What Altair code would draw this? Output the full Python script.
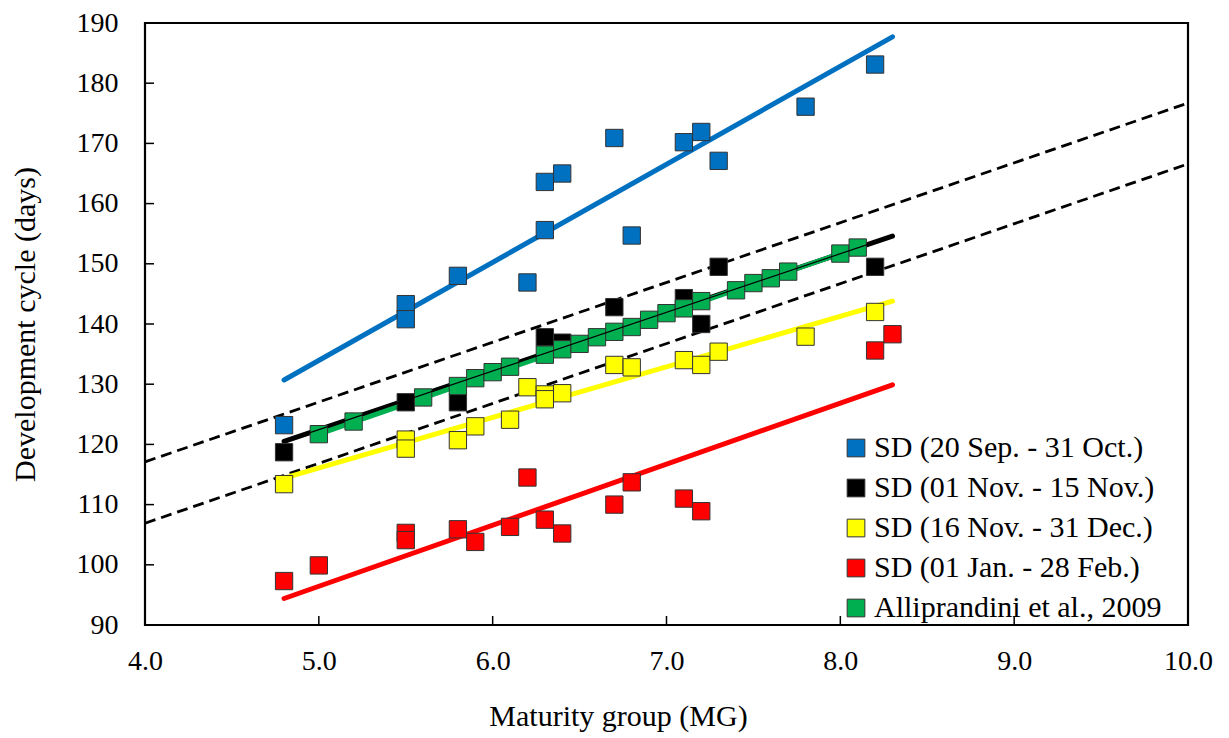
import altair as alt
import pandas as pd

# ---------------- data ----------------
series_names = ["SD (20 Sep. - 31 Oct.)", "SD (01 Nov. - 15 Nov.)",
                "SD (16 Nov. - 31 Dec.)", "SD (01 Jan. - 28 Feb.)",
                "Alliprandini et al., 2009"]
series_colors = ["#0070C0", "#000000", "#FFFF00", "#FF0000", "#00B050"]

blue_x = [4.8, 5.5, 5.5, 5.8, 6.2, 6.3, 6.3, 6.4, 6.7, 6.8, 7.1, 7.2, 7.3, 7.8, 8.2]
blue_y = [123.2, 143.3, 140.8, 148.0, 146.9, 163.6, 155.6, 165.0, 170.9, 154.7,
          170.2, 171.9, 167.1, 176.1, 183.1]

black_x = [4.8, 5.5, 5.8, 6.3, 6.4, 6.7, 7.1, 7.2, 7.3, 8.2]
black_y = [118.7, 127.0, 127.0, 137.8, 136.9, 142.8, 144.3, 140.0, 149.5, 149.5]

yellow_x = [4.8, 5.5, 5.5, 5.8, 5.9, 6.1, 6.2, 6.3, 6.3, 6.4, 6.7, 6.8, 7.1, 7.2, 7.3, 7.8, 8.2]
yellow_y = [113.4, 120.8, 119.3, 120.7, 123.0, 124.1, 129.5, 128.3, 127.5, 128.5,
            133.2, 132.8, 134.0, 133.2, 135.4, 137.9, 142.0]

red_x = [4.8, 5.0, 5.5, 5.5, 5.8, 5.9, 6.1, 6.2, 6.3, 6.4, 6.7, 6.8, 7.1, 7.2, 8.2, 8.3]
red_y = [97.3, 99.9, 105.3, 104.1, 105.9, 103.8, 106.3, 114.5, 107.5, 105.2,
         110.0, 113.7, 111.0, 108.9, 135.6, 138.3]

green_x = [5.0, 5.2, 5.6, 5.8, 5.9, 6.0, 6.1, 6.3, 6.4, 6.5, 6.6, 6.7, 6.8, 6.9,
           7.0, 7.1, 7.2, 7.4, 7.5, 7.6, 7.7, 8.0, 8.1]
green_y = [121.7, 123.8, 127.8, 129.7, 131.0, 132.0, 132.9, 134.9, 135.8, 136.7,
           137.8, 138.7, 139.5, 140.7, 141.8, 142.6, 143.8, 145.6, 146.8, 147.6,
           148.7, 151.7, 152.7]

# fitted trend lines (end points)
trend_x = [[4.8, 8.3], [4.8, 8.3], [4.8, 8.3], [4.8, 8.3], [5.0, 8.1]]
trend_y = [[130.7, 187.7], [120.5, 154.6], [114.4, 143.8], [94.4, 129.9], [121.7, 152.7]]

# dashed envelope lines
dash_x = [4.0, 10.0]
dash_upper = [117.1, 176.7]
dash_lower = [106.9, 166.6]

x_ticks = [4, 5, 6, 7, 8, 9, 10]
y_ticks = [90, 100, 110, 120, 130, 140, 150, 160, 170, 180, 190]

# ---------------- tables ----------------
pts = []
k = 0
for name, xs_, ys_ in zip(series_names, [blue_x, black_x, yellow_x, red_x, green_x],
                          [blue_y, black_y, yellow_y, red_y, green_y]):
    for a, b in zip(xs_, ys_):
        pts.append({"mg": a, "days": b, "series": name, "k": k})
        k += 1
pts_df = pd.DataFrame(pts)

trend_rows = []
for i, (tx, ty) in enumerate(zip(trend_x, trend_y)):
    for a, b in zip(tx, ty):
        trend_rows.append({"mg": a, "days": b, "line": i})
trend_df = pd.DataFrame(trend_rows)

dash_df = pd.DataFrame(
    [{"mg": a, "days": b, "line": "upper"} for a, b in zip(dash_x, dash_upper)]
    + [{"mg": a, "days": b, "line": "lower"} for a, b in zip(dash_x, dash_lower)]
)

W, H = 1043, 602
FONT = "Liberation Serif"
xs = alt.Scale(domain=[4, 10], nice=False, zero=False)
ys = alt.Scale(domain=[90, 190], nice=False, zero=False)

x_axis = alt.Axis(values=x_ticks, format=".1f", title="Maturity group (MG)",
                  grid=False, ticks=False, domain=False, labelFont=FONT,
                  labelFontSize=28, labelColor="black", labelPadding=22,
                  labelOverlap=False, labelFlush=False, titleFont=FONT,
                  titleFontSize=30, titleFontWeight="normal", titleColor="black",
                  titlePadding=26, titleX=473)
y_axis = alt.Axis(values=y_ticks, title="Development cycle (days)",
                  grid=False, ticks=False, domain=False, labelFont=FONT,
                  labelFontSize=28, labelColor="black", labelPadding=27,
                  labelOverlap=False, labelFlush=False, titleFont=FONT,
                  titleFontSize=30, titleFontWeight="normal", titleColor="black",
                  titlePadding=36)

X = alt.X("mg:Q", scale=xs, axis=x_axis)
Y = alt.Y("days:Q", scale=ys, axis=y_axis)

layers = []

dashed = alt.Chart(dash_df).mark_line(color="black", strokeWidth=2.8,
                                      strokeDash=[11, 6]).encode(
    x=X, y=Y, detail="line:N")
layers.append(dashed)

for i in range(len(trend_x)):
    sub = trend_df[trend_df["line"] == i]
    layers.append(alt.Chart(sub).mark_line(color=series_colors[i], strokeWidth=5,
                                           strokeCap="round").encode(x=X, y=Y))

squares = alt.Chart(pts_df).mark_square(size=300, filled=True, opacity=1,
                                        stroke="#333333", strokeWidth=1).encode(
    x=X, y=Y,
    color=alt.Color("series:N",
                    scale=alt.Scale(domain=series_names, range=series_colors),
                    legend=alt.Legend(title=None, orient="none", legendX=696,
                                      legendY=410, symbolType="square",
                                      symbolSize=313, symbolStrokeColor="#333333",
                                      symbolStrokeWidth=1, symbolOpacity=1,
                                      labelFont=FONT, labelFontSize=30,
                                      labelColor="black", labelOffset=3,
                                      rowPadding=10, padding=0,
                                      labelLimit=400)),
    order=alt.Order("k:Q"),
)
layers.append(squares)

# thin black trend visible over the green squares
thin = alt.Chart(trend_df[trend_df["line"] == 1]).mark_line(
    color="black", strokeWidth=1.2).encode(x=X, y=Y)
layers.append(thin)

# inward tick marks
xt_df = pd.DataFrame({"mg": x_ticks[1:-1]})
yt_df = pd.DataFrame({"days": y_ticks[1:-1]})
xticks = alt.Chart(xt_df).mark_rule(color="black", strokeWidth=1.5).encode(
    x=X, y=alt.value(H), y2=alt.value(H - 9))
yticks = alt.Chart(yt_df).mark_rule(color="black", strokeWidth=1.5).encode(
    y=Y, x=alt.value(0), x2=alt.value(9))
layers += [xticks, yticks]

chart = alt.layer(*layers).properties(
    width=W, height=H, autosize="none",
    padding={"left": 145, "top": 23, "right": 41, "bottom": 113},
).configure_view(stroke="black", strokeWidth=2.2)

chart.save("out.html", embed_options={"renderer": "svg", "actions": False})
